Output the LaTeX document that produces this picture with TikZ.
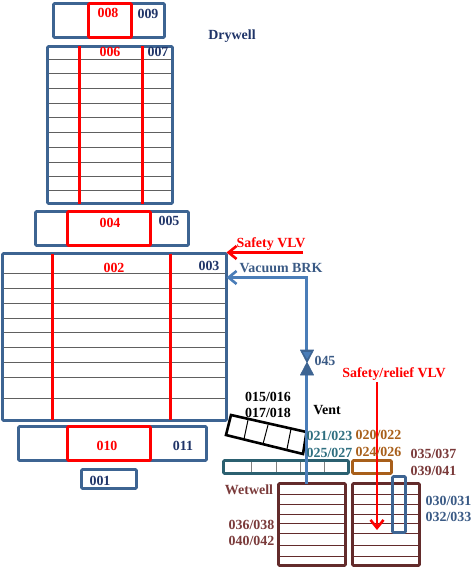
\documentclass[tikz,border=0pt]{standalone}
\usepackage{fontspec}
\setmainfont{Liberation Serif}
\usetikzlibrary{arrows.meta}
\definecolor{bluebox}{HTML}{3D6492}
\definecolor{navytxt}{HTML}{1F3468}
\definecolor{ventblue}{HTML}{4A7DB8}
\definecolor{slatetxt}{HTML}{3A5A85}
\definecolor{tealbox}{HTML}{2B6070}
\definecolor{tealtxt}{HTML}{2F6F80}
\definecolor{brownbox}{HTML}{A85F1A}
\definecolor{maroonbox}{HTML}{632B2B}
\definecolor{maroontxt}{HTML}{7A3A3A}
\definecolor{rowline}{HTML}{606060}
\tikzset{
 every node/.style={font=\bfseries\fontsize{14}{14}\selectfont,inner sep=0pt,outer sep=0pt},
 bluerect/.style={draw=bluebox,line width=2.6bp,rounded corners=1bp},
 redrect/.style={draw=red,line width=2.6bp,rounded corners=1bp},
 tealrect/.style={draw=tealbox,line width=2.6bp,rounded corners=1bp},
 brownrect/.style={draw=brownbox,line width=2.6bp,rounded corners=1bp},
 maroonrect/.style={draw=maroonbox,line width=2.6bp,rounded corners=1bp},
 narrowrect/.style={draw=bluebox,line width=2.6bp,rounded corners=1bp},
 rowrule/.style={draw=rowline,line width=1bp},
 wetrule/.style={draw=maroonbox,line width=1bp},
 barbtip/.style={-{Straight Barb[length=8bp,width=13bp,line width=2.6bp]}},
}
\newcommand{\boxat}[6]{%
 \pgfmathsetmacro{\bxw}{#5-#3}\pgfmathsetmacro{\bxh}{#6-#4}%
 \pgfmathsetmacro{\bxx}{(#3+#5)/2}\pgfmathsetmacro{\bxy}{(#4+#6)/2}%
 \node[#2,minimum width=\bxw bp,minimum height=\bxh bp] (#1) at (\bxx,\bxy) {};}
\newcommand{\rules}[4]{\foreach \yy in {#4} {\draw[#1] (#2,\yy) -- (#3,\yy);}}
\begin{document}
\begin{tikzpicture}[x=1bp,y=-1bp]
\useasboundingbox (0,0) rectangle (472,567);
% Drywell stack
\rules{rowrule}{47}{172}{59.5,73.5,88.5,103.5,117.5,132.5,147.5,162.5,176.5,190.5}
\boxat{b009}{bluerect}{53.5}{3.5}{164.5}{37.5}
\boxat{b008}{redrect}{88.5}{3.5}{131.5}{37.5}
\boxat{b007}{bluerect}{47.5}{46.5}{172.5}{203.5}
\draw[red,line width=2.6bp] (79.5,46.5) -- (79.5,203.5) (142.5,46.5) -- (142.5,203.5);
\boxat{b005}{bluerect}{35.5}{211.5}{188.5}{245.5}
\boxat{b004}{redrect}{67.5}{211.5}{150.5}{245.5}
% Large section
\rules{rowrule}{3}{226}{273.5,288.5,303.5,318.5,332.5,347.5,362.5,377.5,398.5}
\boxat{b003}{bluerect}{2.5}{253.5}{226.5}{420.5}
\draw[red,line width=2.6bp] (52.5,253.5) -- (52.5,419.5) (170.5,253.5) -- (170.5,419.5);
\boxat{b011}{bluerect}{18.5}{426.5}{206.5}{460.5}
\boxat{b010}{redrect}{67.5}{426.5}{150.5}{460.5}
\boxat{b001}{bluerect}{81.5}{469.5}{136.5}{488.5}
\node[red] (t008) at (108,13) {008};
\node[navytxt] (t009) at (148,14) {009};
\node[red] (t006) at (110,52) {006};
\node[navytxt] (t007) at (158,52) {007};
\node[red] (t004) at (110,223) {004};
\node[navytxt] (t005) at (169,221) {005};
\node[red] (t002) at (114,268) {002};
\node[navytxt] (t003) at (209,266) {003};
\node[red] (t010) at (107,446) {010};
\node[navytxt] (t011) at (183,446) {011};
\node[navytxt] (t001) at (100,481) {001};
\node[navytxt] (tdry) at (232,36) {Drywell};
% Safety VLV
\coordinate (safstart) at (303,252.5);
\draw[red,line width=2.6bp,barbtip] (safstart) -- (safstart -| b003.east);
\node[red] (tsafe) at (271,244) {Safety VLV};
% Wetwell rows
\rules{wetrule}{279}{345}{494.5,504.5,514.5,523.5,533.5,545.5,556.5}
\rules{wetrule}{353}{419}{494.5,504.5,514.5,523.5,533.5,545.5,556.5}
\boxat{wl}{maroonrect}{278.5}{483.5}{345.5}{565.5}
\boxat{wr}{maroonrect}{352.5}{483.5}{419.5}{565.5}
% Teal header
\foreach \xx in {251.5,276.5,300.5,324.5} {\draw[draw=gray,line width=1bp] (\xx,461) -- (\xx,473);}
\boxat{teal}{tealrect}{223.5}{460.5}{348.5}{473.5}
\boxat{brownb}{brownrect}{352.5}{460.5}{391.5}{473.5}
% Vent box
\draw[black,line width=2.6bp] (231,415) coordinate (va) -- (306.5,432) coordinate (vb) -- (303,454) coordinate (vc) -- (226,435) coordinate (vd) -- cycle;
\draw[black,line width=1bp] (248,420) -- (244,439) (268,425) -- (263,444) (291,429) -- (287,449);
% Vacuum line and valve
\node[minimum width=13bp,minimum height=25bp] (valve) at (307,362.5) {};
\coordinate (vacend) at (306.5,483.5);
\coordinate (vacturn) at (306.5,277.5);
\draw[ventblue,line width=2.6bp,barbtip] (valve.north -| vacturn) -- (vacturn) -- (vacturn -| b003.east);
\draw[ventblue,line width=2.6bp] (valve.south -| vacturn) -- (vacend);
\fill[fill=bluebox,draw=bluebox,line width=0.8bp,line join=round] (valve.north west) -- (valve.north east) -- (valve.south west) -- (valve.south east) -- cycle;
\fill[fill=ventblue] (302.8,352) -- (311.2,352) -- (307,359) -- cycle;
% Safety/relief arrow
\coordinate (relstart) at (377,382);
\coordinate (relend) at (377,530);
\draw[red,line width=2.6bp,barbtip] (relstart) -- (relend);
\boxat{narrow}{narrowrect}{392.5}{476.5}{405.5}{532.5}
% Labels
\node[slatetxt] (t045) at (325,361) {045};
\node[slatetxt] (tvac) at (281,268.5) {Vacuum BRK};
\node[red] (trel) at (394,374) {Safety/relief VLV};
\node[black] (t015) at (268,397) {015/016};
\node[black] (t017) at (268,413) {017/018};
\node[black] (tvent) at (327,410) {Vent};
\node[tealtxt] (t021) at (329.5,436) {021/023};
\node[tealtxt] (t025) at (329.5,452.5) {025/027};
\node[brownbox] (t020) at (378.5,434.5) {020/022};
\node[brownbox] (t024) at (378.5,452) {024/026};
\node[maroontxt] (t035) at (433.5,453.5) {035/037};
\node[maroontxt] (t039) at (433.5,470.5) {039/041};
\node[maroontxt] (twet) at (249,490) {Wetwell};
\node[maroontxt] (t036) at (251.5,524.5) {036/038};
\node[maroontxt] (t040) at (251.5,540.5) {040/042};
\node[slatetxt] (t030) at (448.5,501) {030/031};
\node[slatetxt] (t032) at (448.5,517) {032/033};
\end{tikzpicture}
\end{document}
